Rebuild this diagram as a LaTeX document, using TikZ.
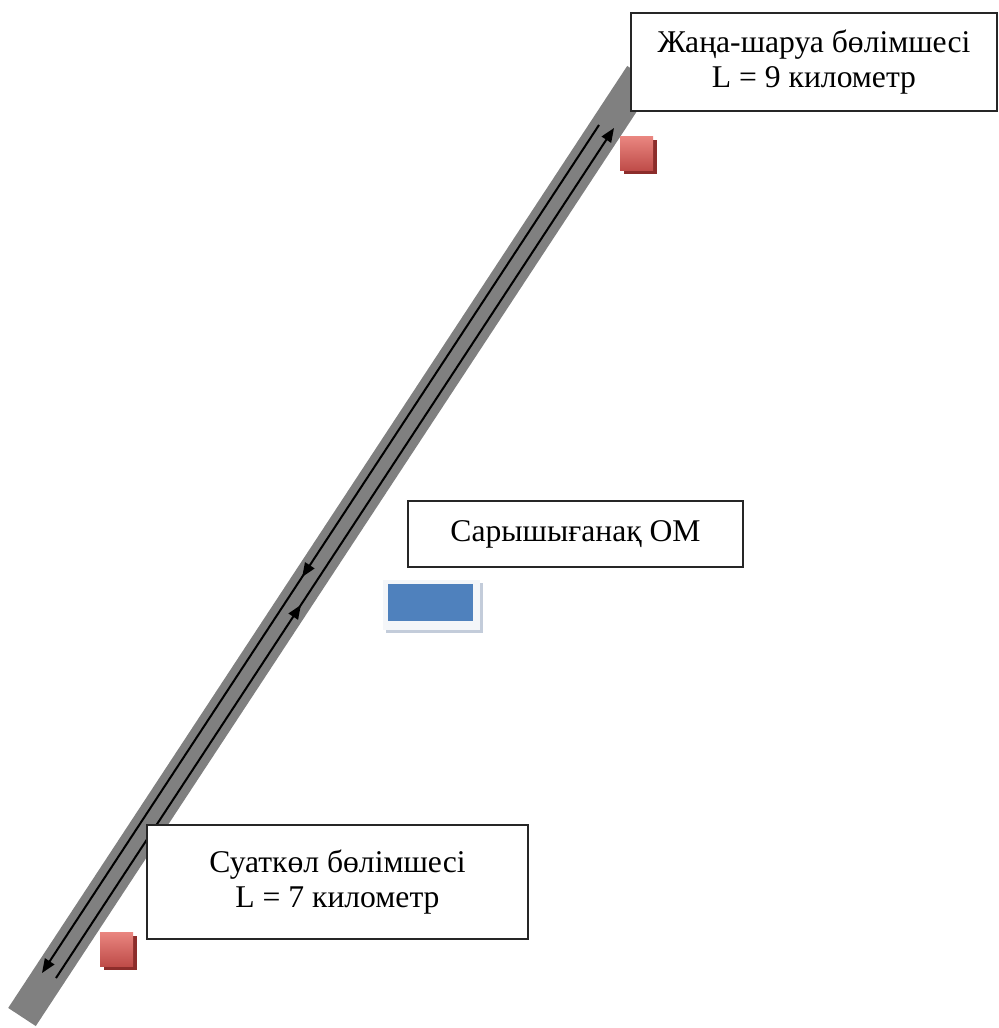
\documentclass[tikz,border=0pt]{standalone}
\usepackage{fontspec}
\setmainfont{Liberation Serif}
\usepackage{tikz}
\usetikzlibrary{arrows.meta,decorations.markings,shadows}
\definecolor{roadGray}{HTML}{808080}
\definecolor{farmRedTop}{HTML}{E9857F}
\definecolor{farmRedBot}{HTML}{BE4B48}
\definecolor{farmShadow}{HTML}{8C2D2B}
\definecolor{omBlue}{HTML}{4F81BD}
\definecolor{omFrame}{HTML}{F4F6F9}
\definecolor{omShadow}{HTML}{C3CCDA}
\tikzset{
    rdbox/.style={draw=black!85, line width=0.35mm, fill=white, align=center, inner sep=0pt, font=\fontsize{18}{20}\selectfont},
    road/.style={line width=6.6mm, roadGray, line cap=butt},
    trk/.style={line width=0.4mm, -{Triangle[length=2.8mm,width=2.2mm]}},
    midtip/.style={postaction={decorate}, decoration={markings, mark=at position #1 with {\arrow{Triangle[length=2.8mm,width=2.2mm]}}}},
    farmsq/.style={minimum width=6.6mm, minimum height=6.8mm, inner sep=0pt, top color=farmRedTop, bottom color=farmRedBot, drop shadow={shadow xshift=0.7mm, shadow yshift=-0.7mm, fill=farmShadow, opacity=1}},
    omframe/.style={minimum width=19.4mm, minimum height=10mm, inner sep=0pt, fill=omFrame, drop shadow={shadow xshift=0.5mm, shadow yshift=-0.6mm, fill=omShadow, opacity=1}},
    ombox/.style={minimum width=17mm, minimum height=7.4mm, inner sep=0pt, fill=omBlue}
}
\begin{document}
\begin{tikzpicture}[x=0.2mm, y=-0.2mm]
    \useasboundingbox (0,0) rectangle (998,1028);
    % road
    \coordinate (roadS) at (22,1017);
    \coordinate (roadN) at (641,75);
    \draw[road] (roadS) -- (roadN);
    % two-way traffic
    \coordinate (dnA) at (599,125);
    \coordinate (dnB) at (42,973);
    \coordinate (upA) at (56,978);
    \coordinate (upB) at (614,128);
    \draw[trk, midtip=0.533] (dnA) -- (dnB);
    \draw[trk, midtip=0.439] (upA) -- (upB);
    % labels
    \node[rdbox, minimum width=73.2mm, minimum height=19.6mm] (zhanasharua) at (814,62) {Жаңа-шаруа бөлімшесі\\L = 9 километр};
    \node[rdbox, minimum width=67mm, minimum height=13.2mm] (sarysh) at (575.5,534) {Сарышығанақ ОМ};
    \node[rdbox, minimum width=76.2mm, minimum height=22.8mm] (suatkol) at (337.5,882) {Суаткөл бөлімшесі\\L = 7 километр};
    % settlements
    \node[farmsq] (farmN) at (636.5,154) {};
    \node[farmsq] (farmS) at (116.5,949.5) {};
    \node[omframe] (omF) at (431.5,605) {};
    \node[ombox] (om) at (430.5,602.5) {};
\end{tikzpicture}
\end{document}
